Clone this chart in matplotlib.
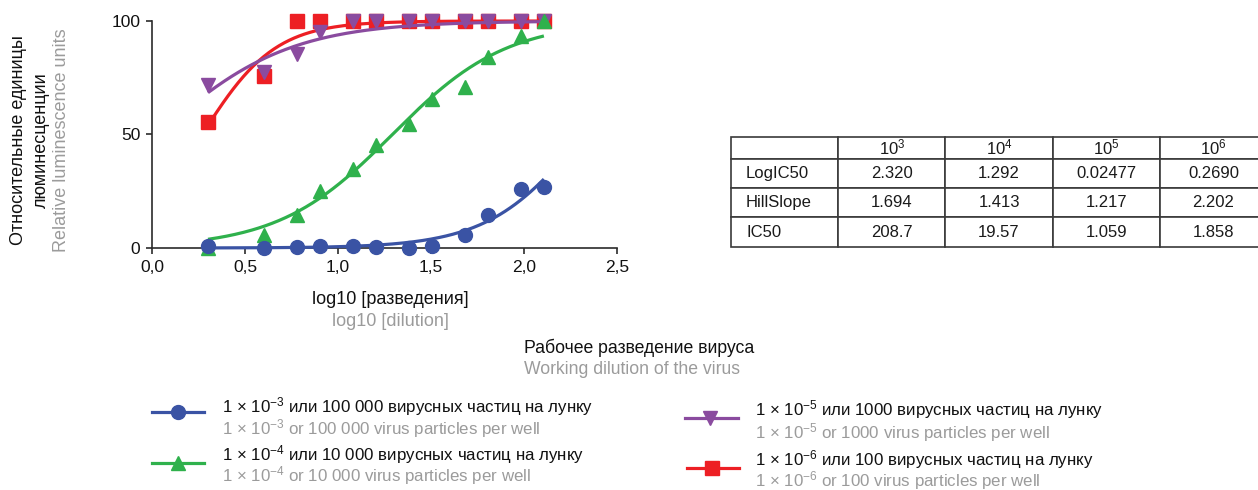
import numpy as np
import matplotlib
matplotlib.use("Agg")
import matplotlib.pyplot as plt
from matplotlib.lines import Line2D

plt.rcParams['font.family'] = ['Liberation Sans', 'DejaVu Sans']
plt.rcParams['mathtext.fontset'] = 'custom'
plt.rcParams['mathtext.rm'] = 'Liberation Sans'
plt.rcParams['mathtext.it'] = 'Liberation Sans:italic'
plt.rcParams['mathtext.bf'] = 'Liberation Sans:bold'
plt.rcParams['mathtext.default'] = 'regular'

# ---------------- data ----------------
log_dilution = [0.301, 0.602, 0.778, 0.903, 1.079, 1.204, 1.380, 1.505, 1.681, 1.806, 1.982, 2.107]

rlu_1e3 = [0.7, 0.2, 0.6, 0.7, 0.8, 0.5, 0.0, 1.0, 5.7, 14.6, 25.9, 26.9]
rlu_1e4 = [0.0, 5.7, 14.5, 25.3, 35.0, 45.3, 54.5, 65.6, 70.8, 84.2, 93.6, 100.0]
rlu_1e5 = [72.0, 77.5, 85.3, 95.0, 100.0, 100.0, 100.0, 100.0, 100.0, 100.0, 100.0, 100.0]
rlu_1e6 = [55.6, 75.7, 100.0, 100.0, 100.0, 100.0, 100.0, 100.0, 100.0, 100.0, 100.0, 100.0]

table_cols = ["10$^{3}$", "10$^{4}$", "10$^{5}$", "10$^{6}$"]
table_rows = ["LogIC50", "HillSlope", "IC50"]
log_ic50 = ["2.320", "1.292", "0.02477", "0.2690"]
hill_slope = ["1.694", "1.413", "1.217", "2.202"]
ic50 = ["208.7", "19.57", "1.059", "1.858"]

x_ticks = [0.0, 0.5, 1.0, 1.5, 2.0, 2.5]
x_tick_labels = ["0,0", "0,5", "1,0", "1,5", "2,0", "2,5"]
y_ticks = [0, 50, 100]

legend_ru = ["1 × 10$^{−3}$ или 100 000 вирусных частиц на лунку",
             "1 × 10$^{−4}$ или 10 000 вирусных частиц на лунку",
             "1 × 10$^{−5}$ или 1000 вирусных частиц на лунку",
             "1 × 10$^{−6}$ или 100 вирусных частиц на лунку"]
legend_en = ["1 × 10$^{−3}$ or 100 000 virus particles per well",
             "1 × 10$^{−4}$ or 10 000 virus particles per well",
             "1 × 10$^{−5}$ or 1000 virus particles per well",
             "1 × 10$^{−6}$ or 100 virus particles per well"]

# ---------------- styles ----------------
BLUE = "#3a53a4"
GREEN = "#2fb14c"
PURPLE = "#8a4b9f"
RED = "#ed1f24"
GRAY = "#9b9b9b"
AX = "#2b2b2b"

W, H = 1258, 490
fig = plt.figure(figsize=(W / 100, H / 100), dpi=100)


def fx(px):
    return px / W


def fy(py):
    return 1 - py / H


ax = fig.add_axes([fx(152), fy(248), fx(617) - fx(152), fy(21) - fy(248)])
ax.set_xlim(0, 2.5)
ax.set_ylim(0, 100)
for s in ["top", "right"]:
    ax.spines[s].set_visible(False)
for s in ["left", "bottom"]:
    ax.spines[s].set_color(AX)
    ax.spines[s].set_linewidth(1.2)
ax.set_xticks(x_ticks)
ax.set_xticklabels(x_tick_labels)
ax.set_yticks(y_ticks)
ax.tick_params(axis="both", direction="out", length=4.5, width=1.2, color=AX,
               labelsize=12.5, labelcolor="#111111", pad=4)

series = [
    (rlu_1e6, log_ic50[3], hill_slope[3], RED, "s", 9.5, 2),
    (rlu_1e5, log_ic50[2], hill_slope[2], PURPLE, "v", 10.5, 3),
    (rlu_1e4, log_ic50[1], hill_slope[1], GREEN, "^", 10.5, 4),
    (rlu_1e3, log_ic50[0], hill_slope[0], BLUE, "o", 10, 5),
]
xs = np.array(log_dilution)
xfit = np.linspace(xs.min(), xs.max(), 200)
for ys, lic, hs, col, mk, ms, z in series:
    yfit = 100.0 / (1 + 10 ** ((float(lic) - xfit) * float(hs)))
    ax.plot(xfit, yfit, color=col, lw=2.3, zorder=z, clip_on=False, solid_capstyle="butt")
    ax.plot(xs, ys, ls="none", marker=mk, ms=ms, color=col, mec=col, zorder=z + 0.5,
            clip_on=False)

# axis labels
fig.text(fx(390), fy(299), "log10 [разведения]", ha="center", va="center", fontsize=13, color="#111111")
fig.text(fx(390), fy(321), "log10 [dilution]", ha="center", va="center", fontsize=13, color=GRAY)
fig.text(fx(19), fy(140), "Относительные единицы", ha="center", va="center", rotation=90,
         fontsize=13, color="#111111")
fig.text(fx(41), fy(140), "люминесценции", ha="center", va="center", rotation=90,
         fontsize=13, color="#111111")
fig.text(fx(62), fy(140), "Relative luminescence units", ha="center", va="center", rotation=90,
         fontsize=13, color=GRAY)

fig.text(fx(524), fy(348), "Рабочее разведение вируса", ha="left", va="center", fontsize=12.7,
         color="#111111")
fig.text(fx(524), fy(369), "Working dilution of the virus", ha="left", va="center", fontsize=12.7,
         color=GRAY)

# legend (manual)
leg_items = [
    (152, 204, 178, 412, 222, 407, 429, BLUE, "o", 10, 0),
    (152, 204, 178, 463, 222, 455, 476, GREEN, "^", 10, 1),
    (685, 738, 710, 418, 755, 410, 433, PURPLE, "v", 10, 2),
    (687, 739, 712, 468, 755, 460, 481, RED, "s", 10, 3),
]
for x0, x1, xm, yl, xt, yt1, yt2, col, mk, ms, i in leg_items:
    fig.add_artist(Line2D([fx(x0), fx(x1)], [fy(yl), fy(yl)], color=col, lw=2.3,
                          transform=fig.transFigure))
    fig.add_artist(Line2D([fx(xm)], [fy(yl)], ls="none", marker=mk, ms=ms, color=col,
                          transform=fig.transFigure))
    fig.text(fx(xt), fy(yt1), legend_ru[i], ha="left", va="center", fontsize=12.2, color="#111111")
    fig.text(fx(xt), fy(yt2), legend_en[i], ha="left", va="center", fontsize=12.2, color=GRAY)

# table
tax = fig.add_axes([fx(731), fy(247), fx(1267) - fx(731), fy(137) - fy(247)])
tax.axis("off")
cell_text = [[""] + table_cols,
             [table_rows[0]] + log_ic50,
             [table_rows[1]] + hill_slope,
             [table_rows[2]] + ic50]
tbl = tax.table(cellText=cell_text, bbox=[0, 0, 1, 1], cellLoc="center")
tbl.auto_set_font_size(False)
row_h = [22, 29, 30, 30]
for (r, c), cell in tbl.get_celld().items():
    cell.set_edgecolor("#3a3a3a")
    cell.set_linewidth(1.2)
    cell.set_height(row_h[r] / 111.0)
    cell.set_width(0.2)
    cell.get_text().set_fontsize(12)
    cell.get_text().set_color("#1a1a1a")
    if c == 0:
        cell.get_text().set_ha("left")
        cell.PAD = 0.14

fig.savefig("out.png", dpi=100)
